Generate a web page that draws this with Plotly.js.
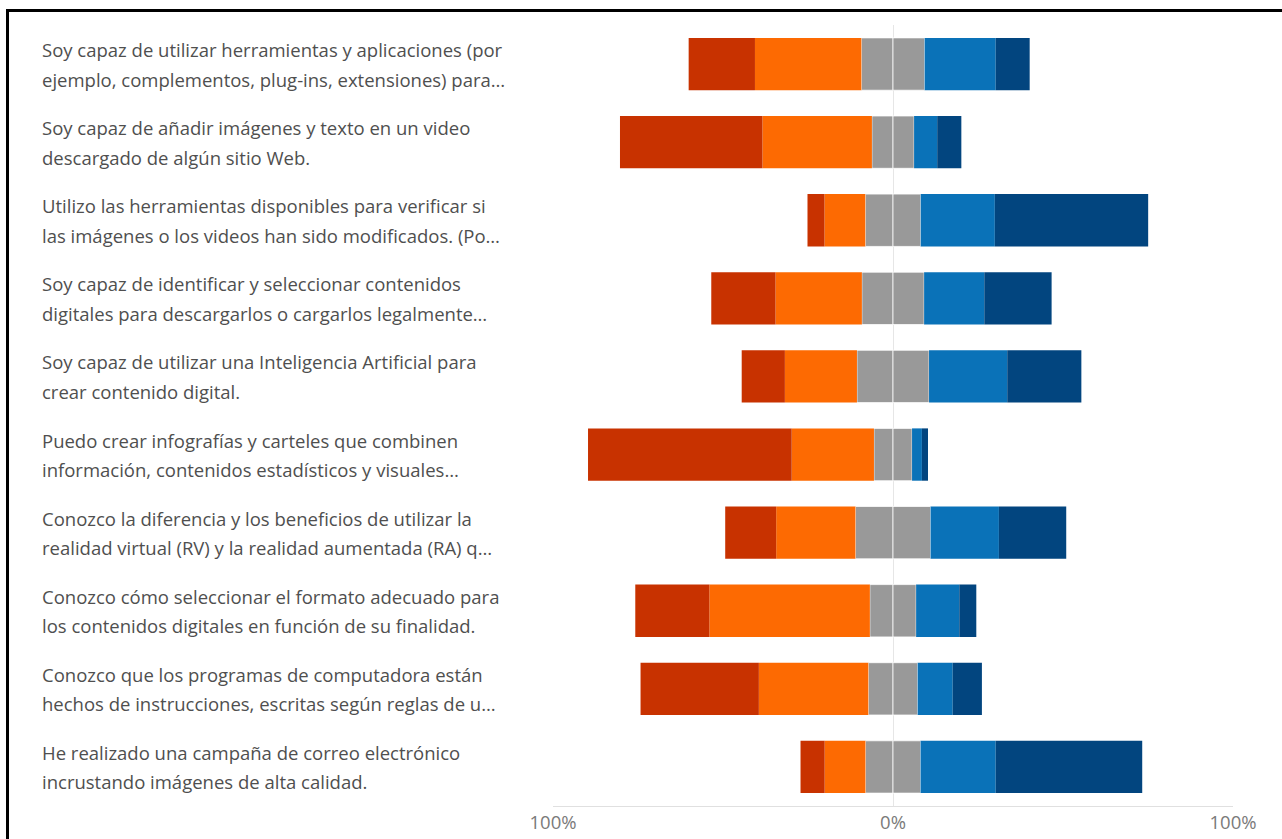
<!DOCTYPE html>
<html>
<head>
<meta charset="utf-8">
<script src="https://cdn.plot.ly/plotly-3.0.1.min.js"></script>
<style>
  html, body { margin: 0; padding: 0; background: #fff; overflow: hidden; }
  #chart { position: absolute; left: 0; top: 0; width: 1282px; height: 839px; }
  #frame { position: absolute; left: 6px; top: 9px; width: 1400px; height: 1000px;
           border-left: 3px solid #000; border-top: 3px solid #000; pointer-events: none; }
</style>
</head>
<body>
<div id="chart"></div>
<div id="frame"></div>
<script>
// Category labels (two visible lines each)
const labelLine1 = [
  "Soy capaz de utilizar herramientas y aplicaciones (por",
  "Soy capaz de añadir imágenes y texto en un video",
  "Utilizo las herramientas disponibles para verificar si",
  "Soy capaz de identificar y seleccionar contenidos",
  "Soy capaz de utilizar una Inteligencia Artificial para",
  "Puedo crear infografías y carteles que combinen",
  "Conozco la diferencia y los beneficios de utilizar la",
  "Conozco cómo seleccionar el formato adecuado para",
  "Conozco que los programas de computadora están",
  "He realizado una campaña de correo electrónico"
];
const labelLine2 = [
  "ejemplo, complementos, plug-ins, extensiones) para…",
  "descargado de algún sitio Web.",
  "las imágenes o los videos han sido modificados. (Po…",
  "digitales para descargarlos o cargarlos legalmente…",
  "crear contenido digital.",
  "información, contenidos estadísticos y visuales…",
  "realidad virtual (RV) y la realidad aumentada (RA) q…",
  "los contenidos digitales en función de su finalidad.",
  "hechos de instrucciones, escritas según reglas de u…",
  "incrustando imágenes de alta calidad."
];
const categories = labelLine1.map((l, i) => "Q" + (i + 1));

// Percent of responses per level
const level1 = [19.5, 41.9, 5.0, 18.9, 12.7, 59.9, 15.0, 21.8, 34.8, 7.1];   // dark red
const level2 = [31.3, 32.2, 12.0, 25.4, 21.2, 24.2, 23.3, 47.2, 32.2, 12.0]; // orange
const level3 = [18.6, 12.4, 16.3, 18.3, 21.2, 11.2, 22.1, 13.6, 14.5, 16.2]; // gray (neutral)
const level4 = [20.9, 6.8, 21.8, 17.7, 23.0, 2.9, 20.1, 12.7, 10.3, 22.1];   // blue
const level5 = [10.0, 7.1, 45.1, 19.8, 21.8, 1.8, 19.8, 5.0, 8.6, 43.1];     // dark blue

const tickVals = [-100, 0, 100];
const tickText = ["100%", "0%", "100%"];

const colors = {
  l1: "#c83200",
  l2: "#fd6a02",
  l3: "#999999",
  l4: "#0a72b8",
  l5: "#02457f"
};

function barTrace(vals, color, name, edge) {
  return {
    type: "bar",
    orientation: "h",
    y: categories,
    x: vals,
    name: name,
    marker: { color: color, line: edge ? { width: 1, color: "rgba(255,255,255,0.75)" } : { width: 0 } },
    hoverinfo: "skip"
  };
}

const neg = a => a.map(v => -v);
const half = a => a.map(v => v / 2);

const traces = [
  barTrace(neg(half(level3)), colors.l3, "neutral-left", true),
  barTrace(half(level3), colors.l3, "neutral-right", true),
  barTrace(neg(level2), colors.l2, "level2", false),
  barTrace(level4, colors.l4, "level4", false),
  barTrace(neg(level1), colors.l1, "level1", false),
  barTrace(level5, colors.l5, "level5", false)
];

const annotations = [];
const txtFont = { family: "Open Sans, Noto Sans, sans-serif", size: 18.5, color: "#4f4f4f" };
categories.forEach((c, i) => {
  annotations.push({ xref: "paper", yref: "y", x: -0.7545, y: c, xanchor: "left", yanchor: "middle",
    text: labelLine1[i], showarrow: false, yshift: 14.5, font: txtFont, align: "left" });
  annotations.push({ xref: "paper", yref: "y", x: -0.7545, y: c, xanchor: "left", yanchor: "middle",
    text: labelLine2[i], showarrow: false, yshift: -15, font: txtFont, align: "left" });
});

const layout = {
  width: 1282,
  height: 839,
  margin: { l: 553, r: 49, t: 25, b: 33, pad: 0 },
  paper_bgcolor: "#ffffff",
  plot_bgcolor: "#ffffff",
  barmode: "relative",
  bargap: 0.33,
  showlegend: false,
  xaxis: {
    range: [-100, 100],
    tickmode: "array",
    tickvals: tickVals,
    ticktext: tickText,
    showgrid: true,
    gridcolor: "#e2e2e2",
    gridwidth: 1,
    zeroline: true,
    zerolinecolor: "#e6e6e6",
    zerolinewidth: 1,
    showline: true,
    linecolor: "#e0e0e0",
    linewidth: 1,
    ticks: "",
    tickfont: { family: "Open Sans, Noto Sans, sans-serif", size: 18.5, color: "#7a7a7a" },
    fixedrange: true
  },
  yaxis: {
    type: "category",
    autorange: "reversed",
    showticklabels: false,
    showgrid: false,
    zeroline: false,
    showline: false,
    ticks: "",
    fixedrange: true
  },
  annotations: annotations
};

Plotly.newPlot("chart", traces, layout, { displayModeBar: false, staticPlot: true });
</script>
</body>
</html>
